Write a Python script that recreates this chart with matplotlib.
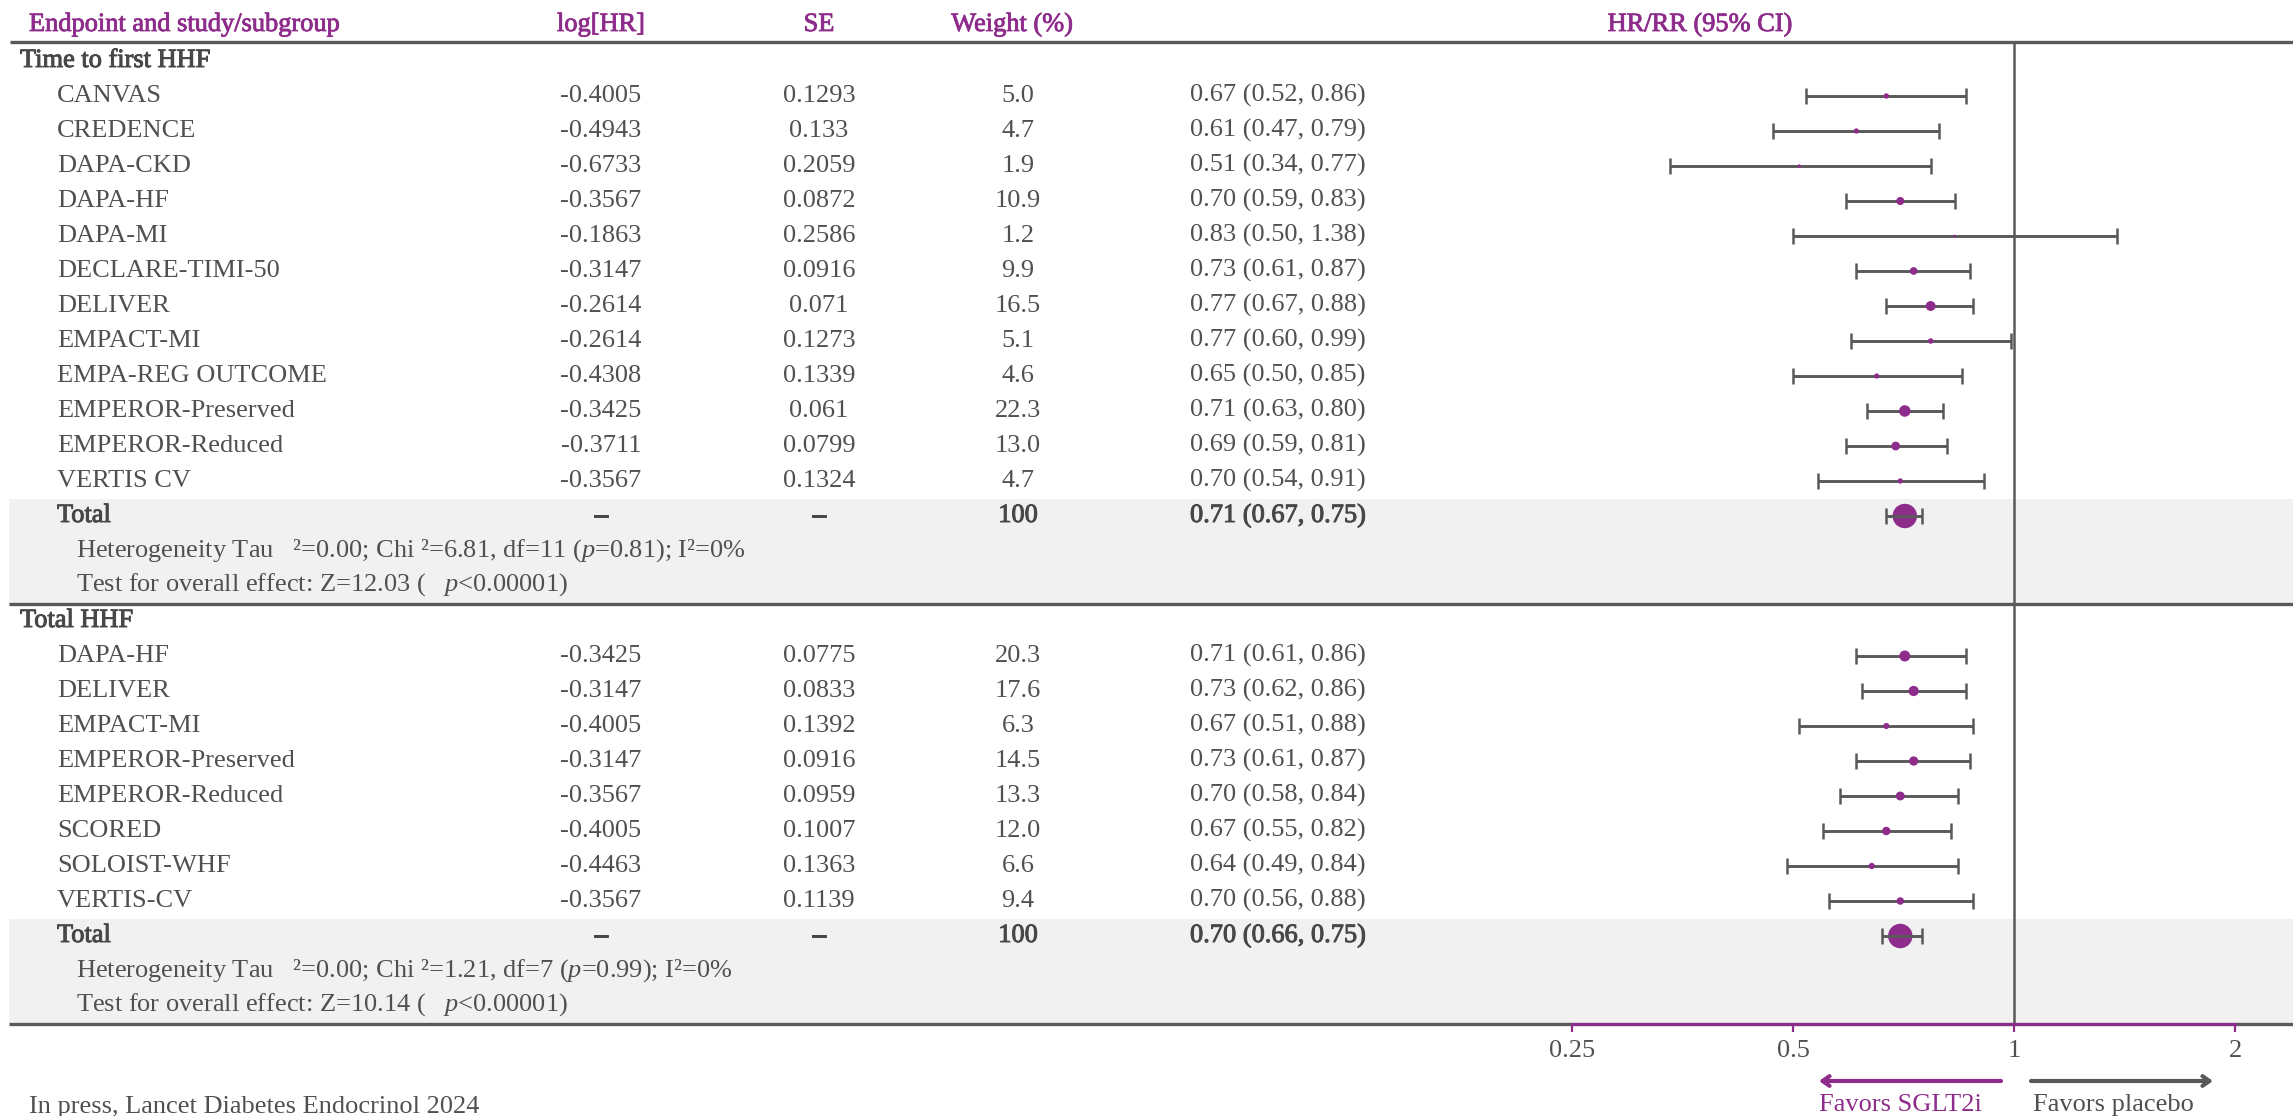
import matplotlib
matplotlib.use("Agg")
import matplotlib.pyplot as plt
import matplotlib.patheffects as pe
from matplotlib.ticker import NullLocator, FixedLocator, FixedFormatter
from matplotlib.patches import Rectangle

plt.rcParams["font.family"] = ["Liberation Serif", "DejaVu Serif"]
plt.rcParams["mathtext.fontset"] = "custom"
plt.rcParams["mathtext.rm"] = "Liberation Serif"
plt.rcParams["mathtext.it"] = "Liberation Serif:italic"

# ---- Time to first HHF ----
first_title = "Time to first HHF"
first_studies = ["CANVAS", "CREDENCE", "DAPA-CKD", "DAPA-HF", "DAPA-MI",
                 "DECLARE-TIMI-50", "DELIVER", "EMPACT-MI", "EMPA-REG OUTCOME",
                 "EMPEROR-Preserved", "EMPEROR-Reduced", "VERTIS CV"]
first_loghr = [-0.4005, -0.4943, -0.6733, -0.3567, -0.1863, -0.3147,
               -0.2614, -0.2614, -0.4308, -0.3425, -0.3711, -0.3567]
first_se = [0.1293, 0.133, 0.2059, 0.0872, 0.2586, 0.0916,
            0.071, 0.1273, 0.1339, 0.061, 0.0799, 0.1324]
first_weight = [5.0, 4.7, 1.9, 10.9, 1.2, 9.9, 16.5, 5.1, 4.6, 22.3, 13.0, 4.7]
first_hr = [0.67, 0.61, 0.51, 0.70, 0.83, 0.73, 0.77, 0.77, 0.65, 0.71, 0.69, 0.70]
first_lo = [0.52, 0.47, 0.34, 0.59, 0.50, 0.61, 0.67, 0.60, 0.50, 0.63, 0.59, 0.54]
first_hi = [0.86, 0.79, 0.77, 0.83, 1.38, 0.87, 0.88, 0.99, 0.85, 0.80, 0.81, 0.91]
first_total = [0.71, 0.67, 0.75]
first_het = r"Heterogeneity Tau   ²=0.00; Chi ²=6.81, df=11 ($p$=0.81); I²=0%"
first_test = r"Test for overall effect: Z=12.03 (   $p$<0.00001)"

# ---- Total HHF ----
total_title = "Total HHF"
total_studies = ["DAPA-HF", "DELIVER", "EMPACT-MI", "EMPEROR-Preserved",
                 "EMPEROR-Reduced", "SCORED", "SOLOIST-WHF", "VERTIS-CV"]
total_loghr = [-0.3425, -0.3147, -0.4005, -0.3147, -0.3567, -0.4005, -0.4463, -0.3567]
total_se = [0.0775, 0.0833, 0.1392, 0.0916, 0.0959, 0.1007, 0.1363, 0.1139]
total_weight = [20.3, 17.6, 6.3, 14.5, 13.3, 12.0, 6.6, 9.4]
total_hr = [0.71, 0.73, 0.67, 0.73, 0.70, 0.67, 0.64, 0.70]
total_lo = [0.61, 0.62, 0.51, 0.61, 0.58, 0.55, 0.49, 0.56]
total_hi = [0.86, 0.86, 0.88, 0.87, 0.84, 0.82, 0.84, 0.88]
total_total = [0.70, 0.66, 0.75]
total_het = r"Heterogeneity Tau   ²=0.00; Chi ²=1.21, df=7 ($p$=0.99); I²=0%"
total_test = r"Test for overall effect: Z=10.14 (   $p$<0.00001)"

headers = ["Endpoint and study/subgroup", "log[HR]", "SE", "Weight (%)", "HR/RR (95% CI)"]
x_ticks = [0.25, 0.5, 1, 2]
x_ticklabels = ["0.25", "0.5", "1", "2"]
footnote = "In press, Lancet Diabetes Endocrinol 2024"
favors_left = "Favors SGLT2i"
favors_right = "Favors placebo"

# ---- styling ----
W, H = 2293, 1116
PURPLE = "#8e2c8c"
TEXT = "#505050"
DARK = "#474747"
LINE = "#595959"
BAND = "#f1f1f1"
FS = 19
PITCH = 35
semi = [pe.withStroke(linewidth=0.7, foreground=DARK)]
semi_p = [pe.withStroke(linewidth=0.6, foreground=PURPLE)]

fig = plt.figure(figsize=(W / 100, H / 100), dpi=100)
bg = fig.add_axes([0, 0, 1, 1])
bg.set_xlim(0, W)
bg.set_ylim(H, 0)
bg.axis("off")

# column anchors (pixels)
X_LABEL0, X_STUDY, X_NOTE = 20, 57, 76
X_LOG, X_SE, X_WT, X_CI = 601, 819, 1018, 1190
X_LEFT_AX, X_RIGHT_AX = 1572, 2235
Y_HEADER_LINE = 42

def put(x, y, s, ha="left", color=TEXT, effects=None, size=FS):
    bg.text(x, y + 6, s, ha=ha, va="baseline", fontsize=size, color=color,
            path_effects=effects)

# header row
for s, x, ha in zip(headers, [29, X_LOG, X_SE, 1012, 1700],
                    ["left", "center", "center", "center", "center"]):
    bg.text(x, 31, s, ha=ha, va="baseline", fontsize=FS, color=PURPLE,
            path_effects=semi_p)
bg.plot([10, W], [Y_HEADER_LINE] * 2, color=LINE, lw=2.4, solid_capstyle="butt")

# forest panel
fax_bottom_px = None
sections = [
    (first_title, first_studies, first_loghr, first_se, first_weight,
     first_hr, first_lo, first_hi, first_total, first_het, first_test),
    (total_title, total_studies, total_loghr, total_se, total_weight,
     total_hr, total_lo, total_hi, total_total, total_het, total_test),
]

rows_mark = []  # (hr, lo, hi, y, weight, is_total)
top = 61
for (title, studies, loghr, se, wt, hr, lo, hi, tot, het, test) in sections:
    put(X_LABEL0, top, title, color=DARK, effects=semi)
    for i, name in enumerate(studies):
        y = top + PITCH * (i + 1)
        put(X_STUDY, y, name)
        put(X_LOG, y, str(loghr[i]), ha="center")
        put(X_SE, y, str(se[i]), ha="center")
        put(X_WT, y, f"{wt[i]:.1f}", ha="center")
        put(X_CI, y, f"{hr[i]:.2f} ({lo[i]:.2f}, {hi[i]:.2f})")
        rows_mark.append((hr[i], lo[i], hi[i], y, wt[i], False))
    y_tot = top + PITCH * (len(studies) + 1)
    band_top = y_tot - 17
    band_bot = y_tot + 88
    bg.add_patch(Rectangle((9, band_top), W - 9, band_bot - band_top,
                           facecolor=BAND, edgecolor="none", zorder=0))
    put(X_STUDY, y_tot, "Total", color=DARK, effects=semi)
    put(X_LOG, y_tot, "–", ha="center", color=DARK, effects=semi)
    put(X_SE, y_tot, "–", ha="center", color=DARK, effects=semi)
    put(X_WT, y_tot, f"{sum(wt):.0f}", ha="center", color=DARK, effects=semi)
    put(X_CI, y_tot, f"{tot[0]:.2f} ({tot[1]:.2f}, {tot[2]:.2f})",
        color=DARK, effects=semi)
    put(X_NOTE, y_tot + 35, het)
    put(X_NOTE, y_tot + 69, test)
    rows_mark.append((tot[0], tot[1], tot[2], y_tot, 100.0, True))
    bg.plot([9, W], [band_bot] * 2, color=LINE, lw=2.4, solid_capstyle="butt",
            zorder=1)
    fax_bottom_px = band_bot
    top = band_bot + 17

ax = fig.add_axes([X_LEFT_AX / W, (H - fax_bottom_px) / H,
                   (X_RIGHT_AX - X_LEFT_AX) / W,
                   (fax_bottom_px - Y_HEADER_LINE) / H])
ax.set_facecolor("none")
ax.set_xscale("log", base=2)
ax.set_xlim(0.25, 2)
ax.set_ylim(fax_bottom_px, Y_HEADER_LINE)
for side in ["top", "left", "right"]:
    ax.spines[side].set_visible(False)
ax.spines["bottom"].set_color(PURPLE)
ax.spines["bottom"].set_linewidth(2.2)
ax.spines["bottom"].set_zorder(5)
ax.set_yticks([])
ax.xaxis.set_major_locator(FixedLocator(x_ticks))
ax.xaxis.set_major_formatter(FixedFormatter(x_ticklabels))
ax.xaxis.set_minor_locator(NullLocator())
ax.tick_params(axis="x", direction="out", length=5.5, width=1.6, color=PURPLE,
               labelcolor=TEXT, labelsize=FS, pad=6)
ax.axvline(1, color=LINE, lw=1.8, zorder=1, clip_on=False)

for hr, lo, hi, y, w, is_tot in rows_mark:
    size = 3.09 * w
    ax.errorbar([hr], [y], xerr=[[hr - lo], [hi - hr]], fmt="none",
                ecolor=LINE, elinewidth=2.1, capsize=5.8, capthick=1.8,
                zorder=4 if is_tot else 2)
    ax.scatter([hr], [y], s=size, color=PURPLE, edgecolors="none",
               zorder=3, clip_on=False)

# direction arrows and captions
bg.annotate("", xy=(1819, 1081), xytext=(2001, 1081),
            arrowprops=dict(arrowstyle="->,head_length=0.5,head_width=0.35",
                            color=PURPLE, lw=3, shrinkA=0, shrinkB=0))
bg.annotate("", xy=(2213, 1081), xytext=(2031, 1081),
            arrowprops=dict(arrowstyle="->,head_length=0.5,head_width=0.35",
                            color=LINE, lw=3, shrinkA=0, shrinkB=0))
bg.text(1819, 1111, favors_left, ha="left", va="baseline", fontsize=FS, color=PURPLE)
bg.text(2033, 1111, favors_right, ha="left", va="baseline", fontsize=FS, color=TEXT)
bg.text(29, 1113, footnote, ha="left", va="baseline", fontsize=FS, color=TEXT)

fig.savefig("out.png", dpi=100)
